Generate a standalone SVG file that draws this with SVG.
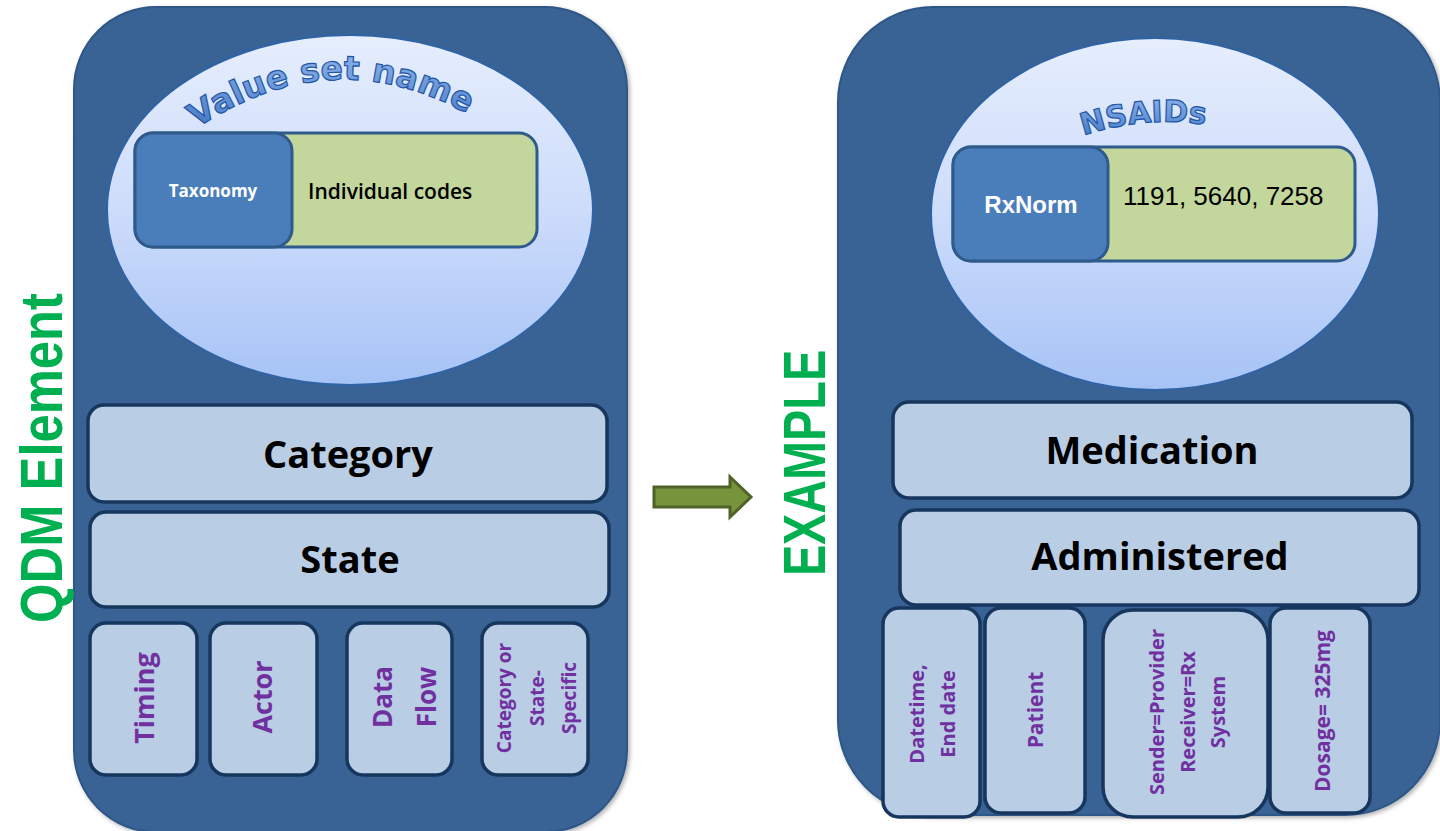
<svg xmlns="http://www.w3.org/2000/svg" width="1440" height="831" viewBox="0 0 1440 831">
<defs>
  <linearGradient id="ellG" x1="0" y1="0" x2="0" y2="1">
    <stop offset="0" stop-color="#e6eefd"/>
    <stop offset="0.5" stop-color="#cddcfb"/>
    <stop offset="1" stop-color="#a6c3f6"/>
  </linearGradient>
  <linearGradient id="waG" x1="0" y1="0" x2="0" y2="1">
    <stop offset="0" stop-color="#8fb4ea"/>
    <stop offset="1" stop-color="#3f74c2"/>
  </linearGradient>
  <path id="arcL" d="M 183 138 Q 330 30 482 122"/>
  <path id="arcR" d="M 1058 145 Q 1145 108 1232 130"/>
  <filter id="sh" x="-5%" y="-5%" width="110%" height="110%">
    <feDropShadow dx="2" dy="2" stdDeviation="2" flood-color="#000" flood-opacity="0.3"/>
  </filter>
</defs>
<style>
  .panel{fill:#386494;stroke:#2e5686;stroke-width:2}
  .ell{fill:url(#ellG);stroke:#2f63a5;stroke-width:2}
  .green{fill:#c3d69b;stroke:#2f5a8c;stroke-width:3}
  .tax{fill:#4a7ebb;stroke:#2f5a8c;stroke-width:3}
  .box{fill:#b9cde5;stroke:#17365d;stroke-width:3.5}
  .big{font-family:"Open Sans","Liberation Sans",sans-serif;font-weight:bold;font-size:38px;fill:#000;text-anchor:middle}
  .vt{font-family:"Open Sans","Liberation Sans",sans-serif;font-weight:bold;fill:#7030a0;text-anchor:middle}
  .wa{font-family:"DejaVu Sans",sans-serif;font-weight:bold;fill:url(#waG);stroke:#1f56a6;stroke-width:1.2;text-anchor:middle}
  .side{font-family:"Liberation Sans",sans-serif;font-weight:bold;fill:#00b050;text-anchor:middle}
</style>

<g id="left-panel">
  <rect class="panel" x="74" y="7" width="553" height="825" rx="82" filter="url(#sh)"/>
</g>
<g id="right-panel">
  <rect class="panel" x="838" y="7" width="602" height="808" rx="95" filter="url(#sh)"/>
</g>

<g id="value-set">
  <ellipse class="ell" cx="350" cy="210" rx="243" ry="175"/>
  <rect class="green" x="135" y="133" width="402" height="114" rx="18"/>
  <rect class="tax" x="135" y="133" width="157" height="114" rx="18"/>
  <text class="wa" font-size="33"><textPath href="#arcL" startOffset="50%">Value set name</textPath></text>
  <text x="213" y="197" font-family="'Open Sans','Liberation Sans',sans-serif" font-weight="bold" font-size="17" fill="#fff" text-anchor="middle">Taxonomy</text>
  <text x="308" y="199" font-family="'Open Sans','Liberation Sans',sans-serif" font-weight="600" font-size="21" fill="#000">Individual codes</text>
</g>

<g id="nsaids">
  <ellipse class="ell" cx="1155" cy="214" rx="224" ry="176"/>
  <rect class="green" x="953" y="147" width="402" height="114" rx="18"/>
  <rect class="tax" x="953" y="147" width="155" height="114" rx="18"/>
  <text class="wa" font-size="30"><textPath href="#arcR" startOffset="50%">NSAIDs</textPath></text>
  <text x="1031" y="213" font-family="'Liberation Sans',Arial,sans-serif" font-weight="bold" font-size="24" fill="#fff" text-anchor="middle">RxNorm</text>
  <text x="1123" y="205" font-family="'Liberation Sans',Arial,sans-serif" font-size="26" fill="#000">1191, 5640, 7258</text>
</g>

<g id="category">
  <rect class="box" x="88" y="405" width="519" height="97" rx="16"/>
  <text class="big" x="348" y="468">Category</text>
</g>
<g id="state">
  <rect class="box" x="90" y="512" width="519" height="95" rx="16"/>
  <text class="big" x="350" y="573">State</text>
</g>
<g id="timing">
  <rect class="box" x="90" y="623" width="107" height="152" rx="16"/>
  <text class="vt" font-size="27" transform="translate(145,698) rotate(-90)" y="9">Timing</text>
</g>
<g id="actor">
  <rect class="box" x="210" y="623" width="107" height="152" rx="16"/>
  <text class="vt" font-size="27" transform="translate(263,697) rotate(-90)" y="9">Actor</text>
</g>
<g id="dataflow">
  <rect class="box" x="347" y="623" width="105" height="152" rx="16"/>
  <text class="vt" font-size="26" transform="translate(405,697) rotate(-90)"><tspan x="0" y="-13">Data</tspan><tspan x="0" y="31">Flow</tspan></text>
</g>
<g id="specific">
  <rect class="box" x="482" y="623" width="106" height="152" rx="16"/>
  <text class="vt" font-size="19" transform="translate(538,698) rotate(-90)"><tspan x="0" y="-27">Category or</tspan><tspan x="0" y="6">State-</tspan><tspan x="0" y="38">Specific</tspan></text>
</g>

<g id="medication">
  <rect class="box" x="893" y="402" width="519" height="96" rx="16"/>
  <text class="big" x="1152" y="464">Medication</text>
</g>
<g id="administered">
  <rect class="box" x="900" y="510" width="519" height="95" rx="16"/>
  <text class="big" x="1160" y="570">Administered</text>
</g>
<g id="datetime">
  <rect class="box" x="883" y="608" width="97" height="209" rx="16"/>
  <text class="vt" font-size="20" transform="translate(932,714) rotate(-90)"><tspan x="0" y="-8">Datetime,</tspan><tspan x="0" y="23">End date</tspan></text>
</g>
<g id="patient">
  <rect class="box" x="985" y="608" width="100" height="205" rx="16"/>
  <text class="vt" font-size="21" transform="translate(1035,710) rotate(-90)" y="8">Patient</text>
</g>
<g id="sender">
  <rect class="box" x="1103" y="610" width="165" height="207" rx="30"/>
  <text class="vt" font-size="20" transform="translate(1187,712) rotate(-90)"><tspan x="0" y="-23">Sender=Provider</tspan><tspan x="0" y="8">Receiver=Rx</tspan><tspan x="0" y="38">System</tspan></text>
</g>
<g id="dosage">
  <rect class="box" x="1270" y="608" width="100" height="205" rx="16"/>
  <text class="vt" font-size="21" transform="translate(1322,711) rotate(-90)" y="8">Dosage= 325mg</text>
</g>

<g id="labels">
  <text class="side" font-size="59" transform="translate(62,458) rotate(-90) scale(0.86,1)">QDM Element</text>
  <text class="side" font-size="60" transform="translate(825,463) rotate(-90) scale(0.78,1)">EXAMPLE</text>
</g>

<g id="connectors">
  <polygon points="654,487 730,487 730,477 751,497 730,517 730,507 654,507" fill="#77933c" stroke="#4f6228" stroke-width="3" stroke-linejoin="miter"/>
</g>
</svg>
